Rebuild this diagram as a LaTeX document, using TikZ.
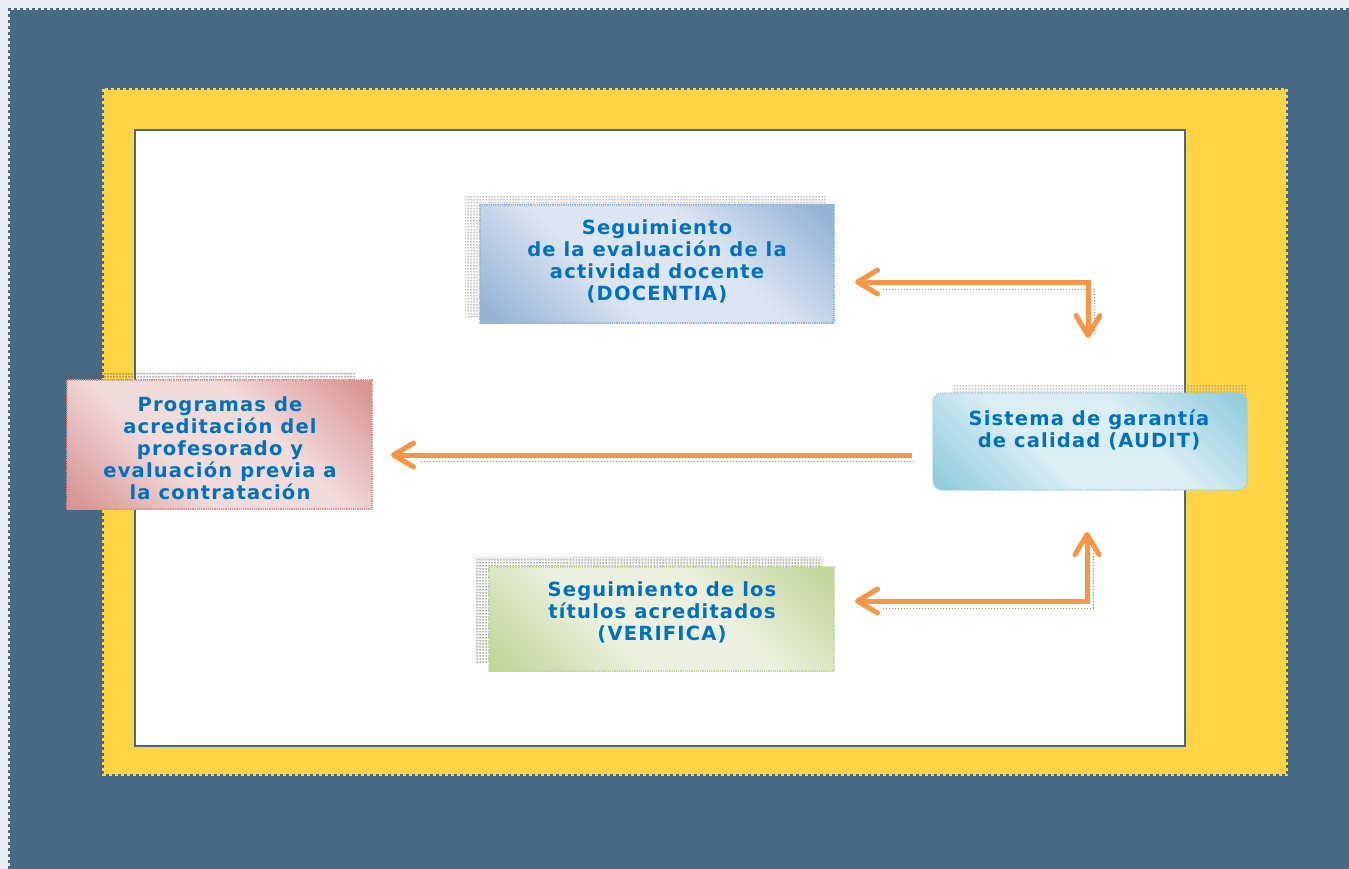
\documentclass[tikz,border=0pt]{standalone}
\usepackage{fontspec}
\setmainfont{DejaVu Sans}
\newfontfamily\lblfont{DejaVu Sans}[LetterSpace=6]
\usetikzlibrary{arrows.meta,patterns.meta}
\definecolor{bgc}{HTML}{ECEEF6}
\definecolor{slate}{HTML}{466A85}
\definecolor{gold}{HTML}{FFD447}
\definecolor{txt}{HTML}{0070C0}
\definecolor{arr}{HTML}{F79646}
\definecolor{arrsh}{HTML}{A8805E}
\definecolor{bluD}{HTML}{95B3D7}\definecolor{bluL}{HTML}{DCE6F2}
\definecolor{redD}{HTML}{D99694}\definecolor{redL}{HTML}{F2DCDB}
\definecolor{cyaD}{HTML}{93CDDD}\definecolor{cyaL}{HTML}{DBEEF4}
\definecolor{grnD}{HTML}{C3D69B}\definecolor{grnL}{HTML}{EBF1DE}
\colorlet{dk}{bluD}\colorlet{lt}{bluL}
\pgfdeclareverticalshading[dk,lt]{diagband}{100bp}{color(0bp)=(dk); color(17bp)=(dk); color(40bp)=(lt); color(60bp)=(lt); color(83bp)=(dk); color(100bp)=(dk)}
\tikzdeclarepattern{name=shdots, type=uncolored,
  bounding box={(-1.5pt,-1.5pt) and (1.5pt,1.5pt)}, tile size={(3pt,3pt)},
  code={\fill (0pt,0pt) circle (0.75pt);}}
\begin{document}
\begin{tikzpicture}[x=1pt,y=-1pt,
  >={Straight Barb[length=20pt,width=24pt,round]},
  box/.style={densely dotted, line width=1.2pt, inner sep=0pt},
  shade2/.style 2 args={/utils/exec={\colorlet{dk}{#1}\colorlet{lt}{#2}}, shading=diagband, shading angle=-45, draw=#1},
  lbl/.style={text=txt, font=\lblfont\bfseries\fontsize{19.5}{22}\selectfont, align=center, inner sep=0pt},
  conn/.style={draw=arr, line width=5pt},
  connsh/.style={draw=arrsh, line width=1pt, dash pattern=on 1pt off 2pt},
  boxsh/.style={pattern=shdots}]
\useasboundingbox (0,0) rectangle (1349,869);
% frames
\fill[bgc] (0,0) rectangle (1349,869);
\fill[slate] (10,10) rectangle (1349,869);
\draw[slate, line width=3pt, dash pattern=on 3pt off 3pt] (9.5,869) -- (9.5,9.5) -- (1349,9.5);
\fill[gold] (104,90) rectangle (1286,774);
\draw[gold, line width=3pt, dash pattern=on 3pt off 3pt] (103.5,89.5) rectangle (1286.5,774.5);
\draw[slate, line width=2pt, fill=white] (135,130) rectangle (1185,746);
% box shadows
\fill[boxsh, pattern color=black!45] (465,196) rectangle (827,318);
\fill[boxsh, pattern color=redD!55!black] (64,372) rectangle (356,500);
\fill[boxsh, pattern color=black!45] (952,384) rectangle (1247,480);
\fill[boxsh, pattern color=grnD!45!black] (476,557) rectangle (822,662);
% boxes
\node[box, shade2={bluD}{bluL}, minimum width=354pt, minimum height=118pt] (doc) at (657,264) {};
\node[box, shade2={redD}{redL}, minimum width=305pt, minimum height=129pt] (prog) at (219.5,444.5) {};
\node[box, shade2={cyaD}{cyaL}, rounded corners=9pt, minimum width=314pt, minimum height=97pt] (aud) at (1090,441.5) {};
\node[box, shade2={grnD}{grnL}, minimum width=345pt, minimum height=104pt] (ver) at (661.5,619) {};
% labels
\node[lbl] (tdoc) at (657,261) {Seguimiento\\de la evaluación de la\\actividad docente\\(DOCENTIA)};
\node[lbl] (tprog) at (220,448.5) {Programas de\\acreditación del\\profesorado y\\evaluación previa a\\la contratación};
\node[lbl] (taud) at (1089,430) {Sistema de garantía\\de calidad (AUDIT)};
\node[lbl] (tver) at (662,612) {Seguimiento de los\\títulos acreditados\\(VERIFICA)};
% connector end points
\coordinate (a1) at (855,282);
\coordinate (a2) at (1088,338);
\coordinate (b1) at (912,455);
\coordinate (b2) at (391,455);
\coordinate (c1) at (855,601);
\coordinate (c2) at (1087,532);
% connector shadows
\draw[connsh] ([shift={(28,7)}]a1) -| ([shift={(6,-4)}]a2);
\draw[connsh] ([shift={(28,7)}]c1) -| ([shift={(6,18)}]c2);
\draw[connsh] ([shift={(2,6)}]b1) -- ([shift={(28,6)}]b2);
% connectors
\draw[conn, <->] (a1) -| (a2);
\draw[conn, ->] (b1) -- (b2);
\draw[conn, <->] (c1) -| (c2);
\end{tikzpicture}
\end{document}
